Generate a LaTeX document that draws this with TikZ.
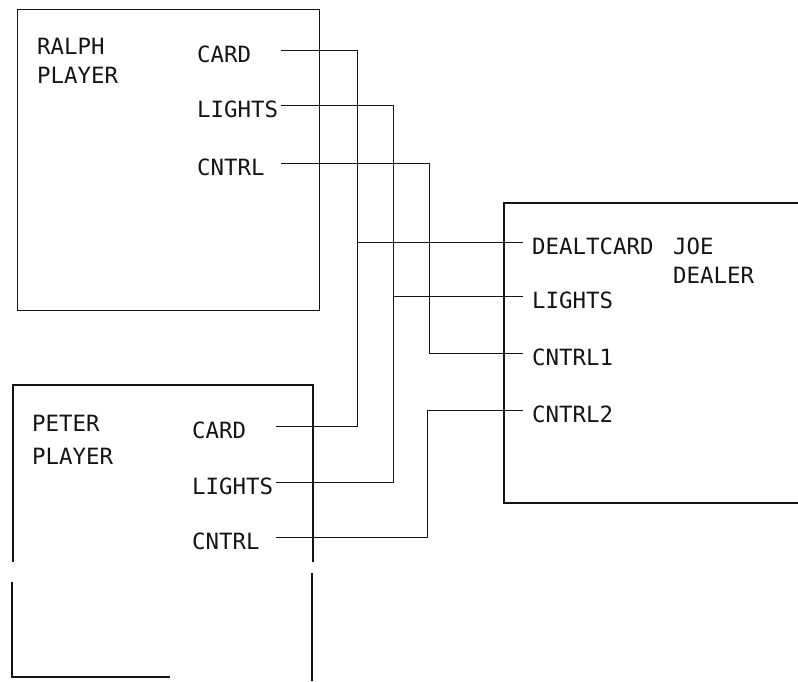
\documentclass[tikz,border=0pt]{standalone}
\usepackage{fontspec}
\usepackage{xcolor}
\setmonofont{DejaVu Sans Mono}
\definecolor{plotInk}{HTML}{141414}
\tikzset{
  frame/.style={line width=1.2pt, plotInk},
  wire/.style={line width=1pt, plotInk},
  title/.style={anchor=north west, inner sep=0pt, align=left, text=plotInk},
  outpin/.style={anchor=west, inner sep=0pt, text width=84pt, align=left,
    text height=24pt, text depth=0pt, text=plotInk},
  inpin/.style={anchor=west, inner xsep=9pt, inner ysep=0pt,
    text height=24pt, text depth=0pt, text=plotInk}
}

\begin{document}
\begin{tikzpicture}[x=1pt,y=-1pt, every node/.style={font=\ttfamily\fontsize{22.4}{29}\selectfont}]
    \useasboundingbox (0,0) rectangle (798,681);
    \node[draw, frame, anchor=north west, minimum width=302pt, minimum height=301pt, inner sep=0pt] (ralphBox) at (17,9) {};
    \draw[frame] (13,562) -- (13,385) -- (313,385) -- (313,562);
    \draw[frame] (12,582) -- (12,677) -- (170,677);
    \draw[frame] (312,573) -- (312,681);
    \draw[frame] (798,203) -- (504,203) -- (504,503) -- (798,503);

    \node[title] (ralphName) at (37,37.5) {RALPH\\PLAYER};
    \node[title] (peterName) at (32,415) {PETER\\[4pt]PLAYER};
    \node[title] (joeName) at (673,238) {JOE\\DEALER};

    \node[outpin] (ralphCard) at (197,50) {CARD};
    \node[outpin] (ralphLights) at (197,105) {LIGHTS};
    \node[outpin] (ralphCntrl) at (197,163) {CNTRL};
    \node[outpin] (peterCard) at (192,426) {CARD};
    \node[outpin] (peterLights) at (192,482) {LIGHTS};
    \node[outpin] (peterCntrl) at (192,537) {CNTRL};
    \node[inpin] (joeCard) at (523,242) {DEALTCARD};
    \node[inpin] (joeLights) at (523,296) {LIGHTS};
    \node[inpin] (joeCntrlA) at (523,353) {CNTRL1};
    \node[inpin] (joeCntrlB) at (523,410) {CNTRL2};

    \coordinate (cardBus) at (357,0);
    \coordinate (lightsBus) at (393,0);
    \coordinate (cntrlBus) at (429,0);
    \coordinate (cntrlTwoBus) at (427,0);

    \draw[wire] (ralphCard.east) -| (cardBus |- peterCard.east) -- (peterCard.east);
    \draw[wire] (cardBus |- joeCard.west) -- (joeCard.west);
    \draw[wire] (ralphLights.east) -| (lightsBus |- peterLights.east) -- (peterLights.east);
    \draw[wire] (lightsBus |- joeLights.west) -- (joeLights.west);
    \draw[wire] (ralphCntrl.east) -| (cntrlBus |- joeCntrlA.west) -- (joeCntrlA.west);
    \draw[wire] (peterCntrl.east) -| (cntrlTwoBus |- joeCntrlB.west) -- (joeCntrlB.west);
  \end{tikzpicture}
\end{document}
